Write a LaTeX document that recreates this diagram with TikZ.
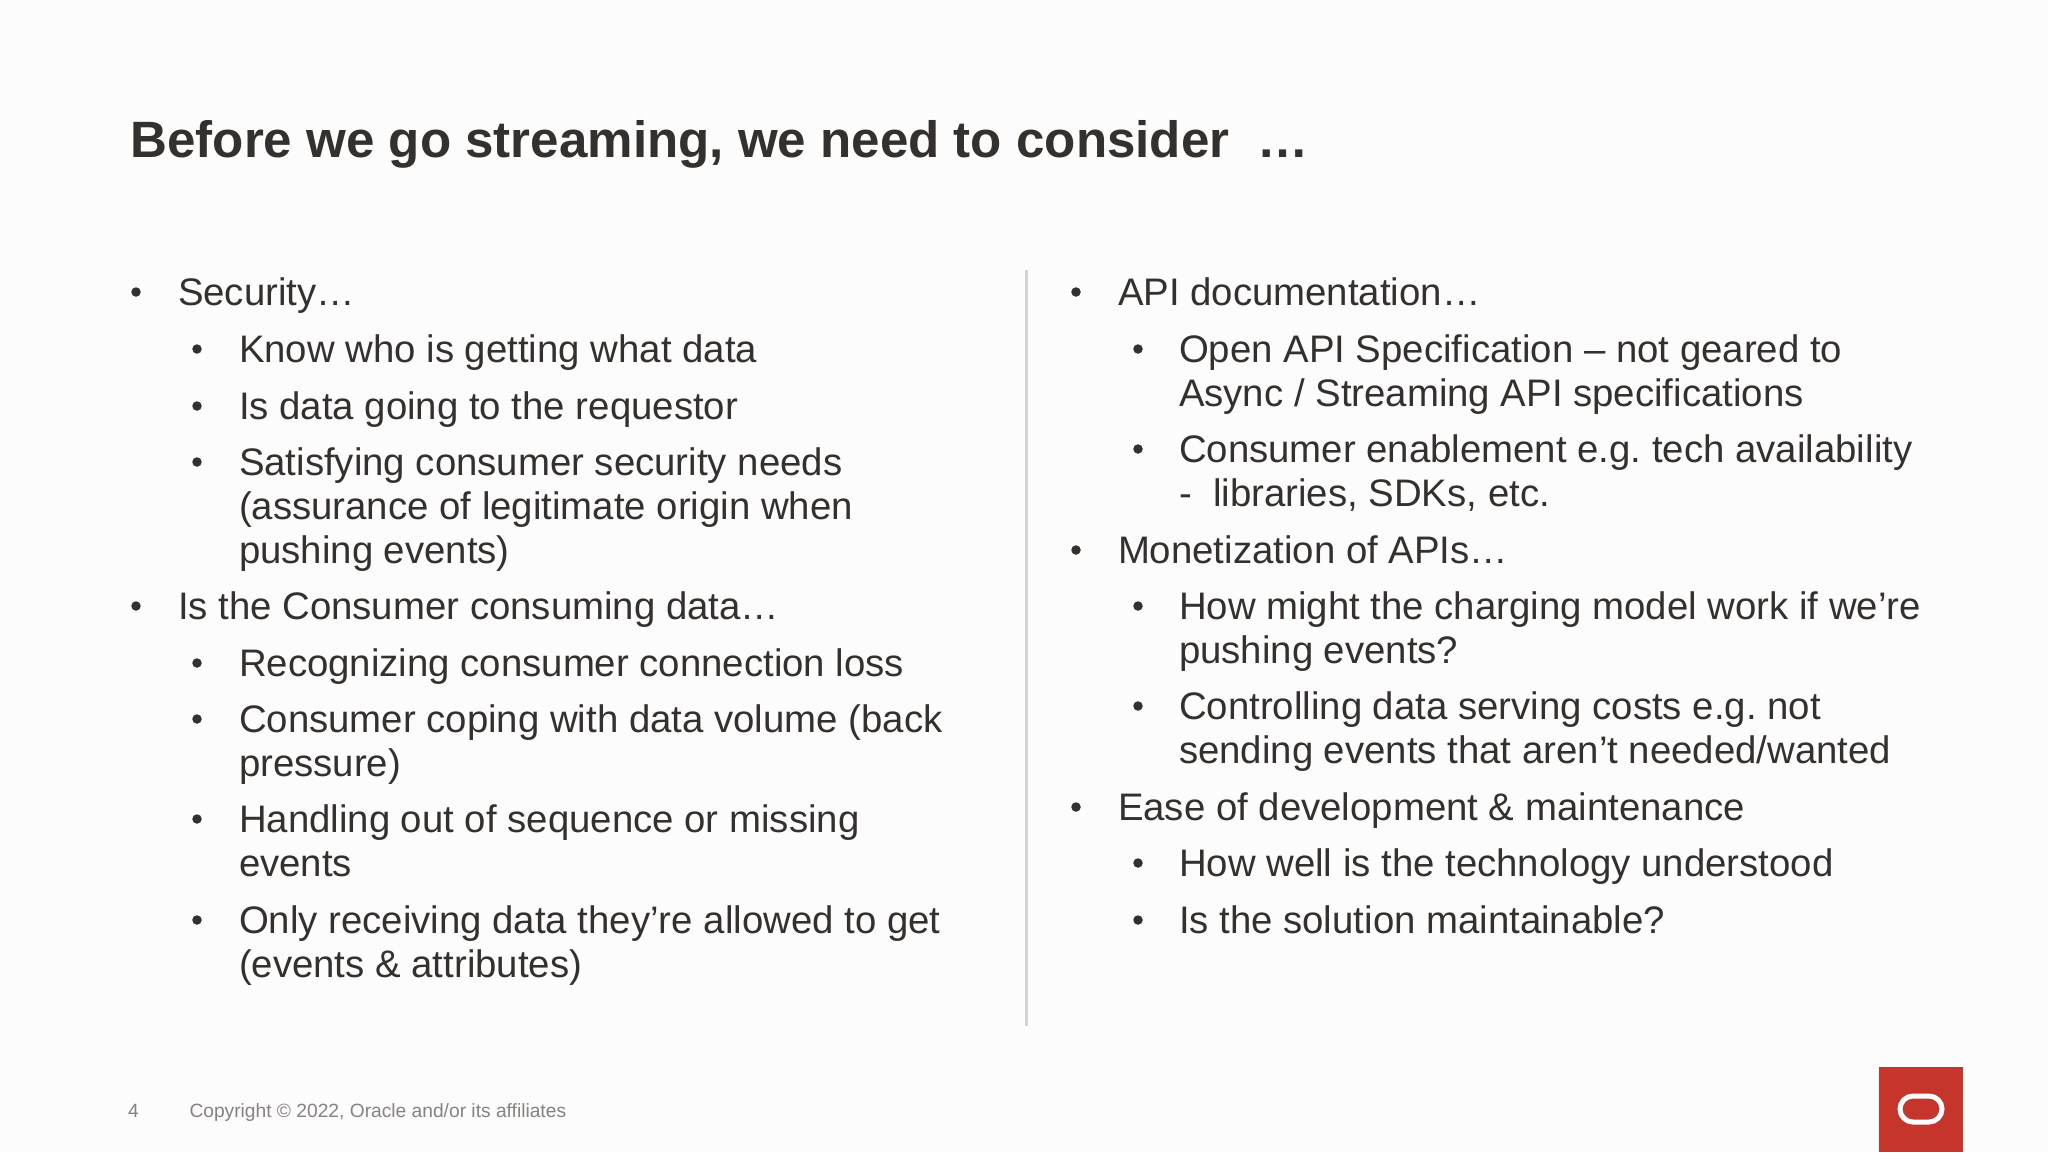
\documentclass[tikz,border=0pt]{standalone}
\usepackage{fontspec}
\setmainfont{Liberation Sans}
\definecolor{ink}{HTML}{34302D}
\definecolor{foot}{HTML}{85827F}
\definecolor{oraclered}{HTML}{C5352C}
\definecolor{paper}{HTML}{FDFCFC}
\definecolor{rule}{HTML}{D4D2D0}
\newcommand{\bodyfont}{\fontsize{38.36}{44}\selectfont\frenchspacing}
\tikzset{
  txt/.style={anchor=base west,inner sep=0pt,outer sep=0pt,text=ink,font=\bodyfont},
  dot/.style={circle,fill=ink,inner sep=0pt,minimum size=9.5pt,draw=none},
}
\begin{document}
\begin{tikzpicture}[x=1pt,y=-1pt]
\useasboundingbox (0,0) rectangle (2048,1152);
\fill[paper] (0,0) rectangle (2048,1152);
\node[txt,font=\bfseries\fontsize{51.1}{58}\selectfont] (title) at (130.5,157) {Before we go streaming, we need to consider\ \ …};
% left column
\node[dot] (b1) at (136,292) {};
\node[txt] (t1) at (178,305) {Security…};
\node[dot] (b2) at (197,349) {};
\node[txt] (t2) at (239,362) {Know who is getting what data};
\node[dot] (b3) at (197,406) {};
\node[txt] (t3) at (239,419) {Is data going to the requestor};
\node[dot] (b4) at (197,462) {};
\node[txt] (t4a) at (239,475) {Satisfying consumer security needs};
\node[txt] (t4b) at (239,519) {(assurance of legitimate origin when};
\node[txt] (t4c) at (239,563) {pushing events)};
\node[dot] (b5) at (136,606) {};
\node[txt] (t5) at (178,619) {Is the Consumer consuming data…};
\node[dot] (b6) at (197,663) {};
\node[txt] (t6) at (239,676) {Recognizing consumer connection loss};
\node[dot] (b7) at (197,719) {};
\node[txt] (t7a) at (239,732) {Consumer coping with data volume (back};
\node[txt] (t7b) at (239,776) {pressure)};
\node[dot] (b8) at (197,819) {};
\node[txt] (t8a) at (239,832) {Handling out of sequence or missing};
\node[txt] (t8b) at (239,876) {events};
\node[dot] (b9) at (197,920) {};
\node[txt] (t9a) at (239,933) {Only receiving data they’re allowed to get};
\node[txt] (t9b) at (239,977) {(events \& attributes)};
% divider
\coordinate (ruleTop) at (1026.5,270);
\coordinate (ruleBot) at (1026.5,1026);
\draw[rule,line width=3pt] (ruleTop) -- (ruleBot);
% right column
\node[dot] (c1) at (1076,292) {};
\node[txt] (r1) at (1118,305) {API documentation…};
\node[dot] (c2) at (1138,349) {};
\node[txt] (r2a) at (1179,362) {Open API Specification – not geared to};
\node[txt] (r2b) at (1179,406) {Async / Streaming API specifications};
\node[dot] (c3) at (1138,449) {};
\node[txt] (r3a) at (1179,462) {Consumer enablement e.g. tech availability};
\node[txt] (r3b) at (1179,506) {-\ \ libraries, SDKs, etc.};
\node[dot] (c4) at (1076,550) {};
\node[txt] (r4) at (1118,563) {Monetization of APIs…};
\node[dot] (c5) at (1138,606) {};
\node[txt] (r5a) at (1179,619) {How might the charging model work if we’re};
\node[txt] (r5b) at (1179,663) {pushing events?};
\node[dot] (c6) at (1138,706) {};
\node[txt] (r6a) at (1179,719) {Controlling data serving costs e.g. not};
\node[txt] (r6b) at (1179,763) {sending events that aren’t needed/wanted};
\node[dot] (c7) at (1076,807) {};
\node[txt] (r7) at (1118,820) {Ease of development \& maintenance};
\node[dot] (c8) at (1138,863) {};
\node[txt] (r8) at (1179,876) {How well is the technology understood};
\node[dot] (c9) at (1138,920) {};
\node[txt] (r9) at (1179,933) {Is the solution maintainable?};
% footer
\node[txt,text=foot,font=\fontsize{19.2}{22}\selectfont] (page) at (128,1117) {4};
\node[txt,text=foot,font=\fontsize{19.2}{22}\selectfont] (copy) at (189.5,1117) {Copyright © 2022, Oracle and/or its affiliates};
% logo
\fill[oraclered] (1879,1067) rectangle (1963,1152);
\draw[white,line width=5pt,rounded corners=13pt] (1900,1096) rectangle (1942,1122);
\end{tikzpicture}
\end{document}
